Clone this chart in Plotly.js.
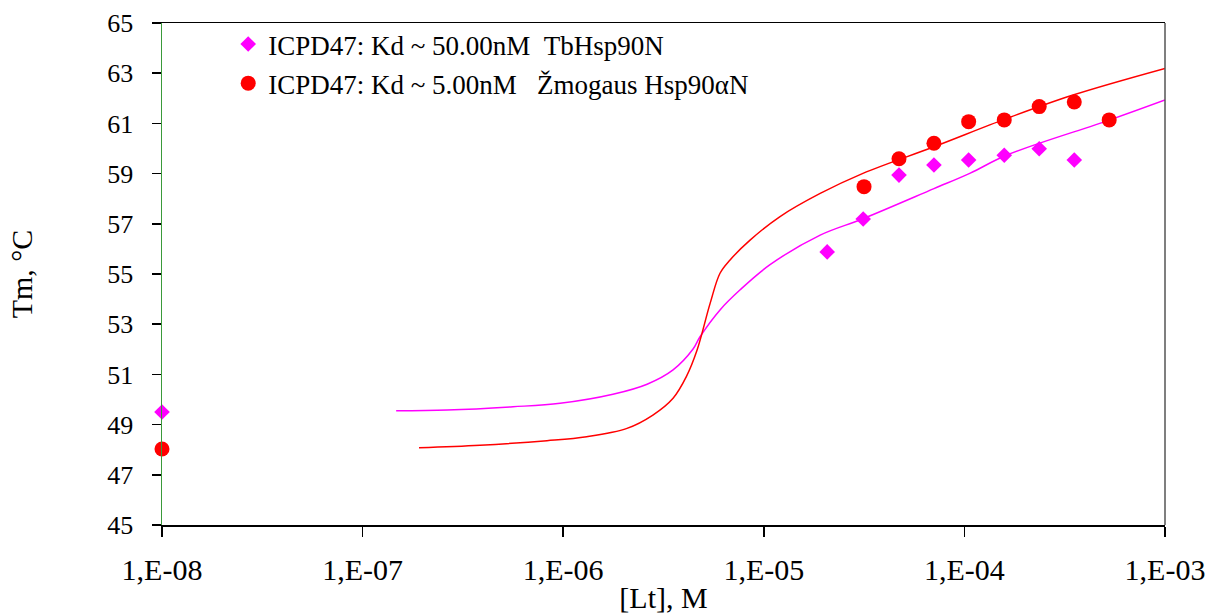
<!DOCTYPE html>
<html>
<head>
<meta charset="utf-8">
<script src="https://cdn.plot.ly/plotly-3.0.1.min.js"></script>
<style>html,body{margin:0;padding:0;background:#fff;}#chart{width:1209px;height:614px;}</style>
</head>
<body>
<div id="chart"></div>
<script>
// Measured points
const tbX = [1e-8, 2.07e-5, 3.13e-5, 4.72e-5, 7.05e-5, 1.05e-4, 1.58e-4, 2.36e-4, 3.53e-4];
const tbY = [49.5, 55.88, 57.19, 58.94, 59.34, 59.54, 59.73, 59.99, 59.54];
const huX = [1e-8, 3.16e-5, 4.72e-5, 7.05e-5, 1.05e-4, 1.58e-4, 2.36e-4, 3.53e-4, 5.27e-4];
const huY = [48.03, 58.48, 59.59, 60.21, 61.07, 61.14, 61.67, 61.85, 61.14];

// Fitted curves
const tbFitX = [1.47e-7, 2.64e-7, 5.62e-7, 9.65e-7, 1.77e-6, 2.62e-6, 3.53e-6, 4.43e-6, 4.81e-6, 6.05e-6, 7.60e-6, 1.07e-5, 1.91e-5, 3.12e-5, 7.05e-5, 1.07e-4, 1.63e-4, 5.32e-4, 1e-3];
const tbFitY = [49.55, 49.58, 49.71, 49.85, 50.21, 50.61, 51.18, 52.00, 52.50, 53.57, 54.36, 55.36, 56.55, 57.20, 58.40, 59.02, 59.74, 61.14, 61.93];
const huFitX = [1.91e-7, 3.85e-7, 8.30e-7, 1.31e-6, 2.08e-6, 2.80e-6, 3.53e-6, 4.11e-6, 4.65e-6, 5.40e-6, 6.05e-6, 6.79e-6, 8.54e-6, 1.20e-5, 1.91e-5, 3.12e-5, 7.05e-5, 1.63e-4, 3.48e-4, 1e-3];
const huFitY = [48.08, 48.18, 48.36, 48.52, 48.85, 49.38, 50.05, 50.91, 51.97, 53.83, 55.03, 55.56, 56.35, 57.28, 58.21, 59.01, 60.07, 61.20, 62.13, 63.19];

const xTickVals = [1e-8, 1e-7, 1e-6, 1e-5, 1e-4, 1e-3];
const xTickText = ['1,E-08', '1,E-07', '1,E-06', '1,E-05', '1,E-04', '1,E-03'];
const yTickVals = [45, 47, 49, 51, 53, 55, 57, 59, 61, 63, 65];

const nb = '\u00A0';
const traces = [
  {x: tbFitX, y: tbFitY, mode: 'lines', line: {color: '#FF00FF', width: 1.5, shape: 'spline'}, showlegend: false, hoverinfo: 'skip'},
  {x: huFitX, y: huFitY, mode: 'lines', line: {color: '#FF0000', width: 1.5, shape: 'spline'}, showlegend: false, hoverinfo: 'skip'},
  {x: tbX, y: tbY, mode: 'markers', name: 'ICPD47: Kd ~ 50.00nM' + nb + nb + 'TbHsp90N', legendgroup: 'a',
   marker: {symbol: 'diamond', size: 12, color: '#FF00FF'}, cliponaxis: false},
  {x: huX, y: huY, mode: 'markers', name: 'ICPD47: Kd ~ 5.00nM' + nb + nb + nb + 'Žmogaus Hsp90αN', legendgroup: 'b',
   marker: {symbol: 'circle', size: 15, color: '#FF0000'}, cliponaxis: false}
];

const fontFam = '"Liberation Serif", "Times New Roman", serif';
const layout = {
  width: 1209, height: 614,
  margin: {l: 162, r: 44, t: 23, b: 89},
  paper_bgcolor: '#fff', plot_bgcolor: '#fff',
  font: {family: fontFam, size: 26, color: '#000'},
  showlegend: true,
  legend: {x: 0.066, y: 1.006, xanchor: 'left', yanchor: 'top', bgcolor: 'rgba(0,0,0,0)',
           font: {family: fontFam, size: 27, color: '#000'}, tracegroupgap: 1, itemwidth: 30},
  xaxis: {type: 'log', range: [-8, -3], tickvals: xTickVals, ticktext: xTickText,
          showgrid: false, zeroline: false, showline: true, linecolor: '#000', linewidth: 1.5, mirror: true,
          ticks: 'outside', ticklen: 10, tickcolor: '#000', tickwidth: 1.5, ticklabelstandoff: 7,
          tickfont: {family: fontFam, size: 30, color: '#000'},
          title: {text: '[Lt], M', font: {family: fontFam, size: 30, color: '#000'}, standoff: 3}},
  yaxis: {range: [45, 65], tickvals: yTickVals, showgrid: false, zeroline: false,
          showline: true, linecolor: '#3a9a3a', linewidth: 1.5,
          ticks: 'outside', ticklen: 9, tickcolor: '#000', tickwidth: 1.5, ticklabelstandoff: 13,
          tickfont: {family: fontFam, size: 26, color: '#000'},
          title: {text: 'Tm, °C', font: {family: fontFam, size: 30, color: '#000'}, standoff: 66}},
  shapes: [
    {type: 'line', xref: 'paper', yref: 'paper', x0: 1, x1: 1, y0: 0, y1: 1, line: {color: '#555', width: 1.5}}
  ]
};

Plotly.newPlot('chart', traces, layout, {displayModeBar: false, staticPlot: true});
</script>
</body>
</html>
